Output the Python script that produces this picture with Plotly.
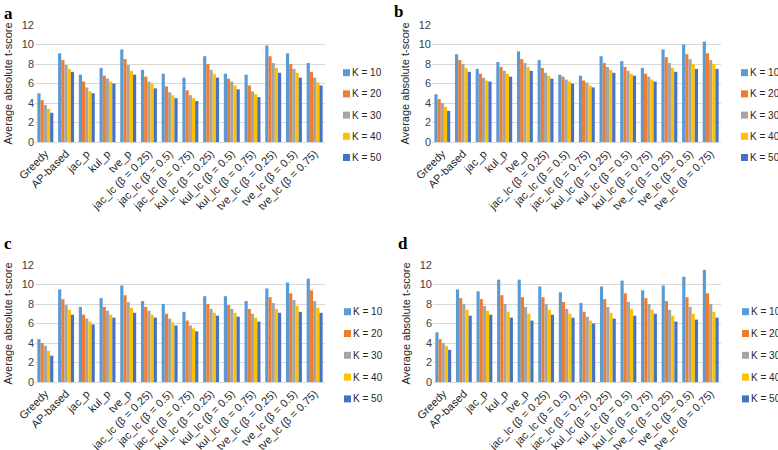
import plotly.graph_objects as go

categories = ["Greedy", "AP-based", "jac_p", "kul_p", "tve_p",
              "jac_lc (β = 0.25)", "jac_lc (β = 0.5)", "jac_lc (β = 0.75)",
              "kul_lc (β = 0.25)", "kul_lc (β = 0.5)", "kul_lc (β = 0.75)",
              "tve_lc (β = 0.25)", "tve_lc (β = 0.5)", "tve_lc (β = 0.75)"]
series_names = ["K = 10", "K = 20", "K = 30", "K = 40", "K = 50"]
panel_labels = ["a", "b", "c", "d"]

# values per panel, one list per category: [K10, K20, K30, K40, K50]
panel_a = [[5.0, 4.3, 3.8, 3.4, 3.0], [9.1, 8.4, 7.9, 7.5, 7.2], [6.9, 6.2, 5.6, 5.2, 5.0],
           [7.6, 6.8, 6.5, 6.2, 6.0], [9.5, 8.5, 7.9, 7.3, 6.9], [7.4, 6.7, 6.2, 6.0, 5.5],
           [7.0, 5.7, 5.1, 4.8, 4.5], [6.6, 5.3, 4.8, 4.5, 4.2], [8.8, 8.0, 7.4, 7.0, 6.6],
           [7.0, 6.5, 6.2, 5.8, 5.4], [6.9, 5.8, 5.2, 4.9, 4.6], [9.9, 8.8, 8.1, 7.6, 7.1],
           [9.1, 8.0, 7.5, 7.1, 6.6], [8.1, 7.2, 6.6, 6.1, 5.8]]
panel_b = [[4.9, 4.4, 4.0, 3.6, 3.2], [9.0, 8.4, 8.0, 7.6, 7.2], [7.5, 7.0, 6.6, 6.3, 6.2],
           [8.2, 7.7, 7.3, 7.0, 6.7], [9.3, 8.5, 8.1, 7.7, 7.3], [8.4, 7.6, 7.1, 6.8, 6.5],
           [6.9, 6.7, 6.4, 6.2, 6.0], [6.8, 6.3, 6.1, 5.8, 5.6], [8.8, 8.1, 7.7, 7.4, 7.1],
           [8.3, 7.7, 7.3, 7.0, 6.8], [7.6, 7.0, 6.7, 6.4, 6.2], [9.5, 8.7, 8.1, 7.6, 7.2],
           [10.0, 9.0, 8.5, 8.0, 7.5], [10.3, 9.1, 8.4, 8.0, 7.5]]
panel_c = [[4.4, 4.0, 3.7, 3.2, 2.7], [9.5, 8.5, 7.9, 7.4, 6.9], [7.7, 6.9, 6.5, 6.2, 5.9],
           [8.6, 7.7, 7.3, 6.9, 6.6], [9.9, 8.9, 8.2, 7.6, 7.1], [8.3, 7.7, 7.3, 6.9, 6.6],
           [8.0, 7.0, 6.5, 6.1, 5.8], [7.2, 6.3, 5.8, 5.5, 5.2], [8.8, 8.0, 7.5, 7.1, 6.8],
           [8.8, 7.9, 7.5, 7.1, 6.7], [8.3, 7.5, 7.0, 6.6, 6.2], [9.6, 8.7, 8.1, 7.5, 7.1],
           [10.2, 9.1, 8.4, 7.8, 7.2], [10.6, 9.4, 8.3, 7.6, 7.1]]
panel_d = [[5.1, 4.4, 4.0, 3.7, 3.3], [9.5, 8.6, 8.0, 7.4, 6.8], [9.3, 8.5, 7.8, 7.3, 6.9],
           [10.5, 8.9, 8.0, 7.2, 6.6], [10.5, 8.7, 7.7, 7.0, 6.3], [9.8, 8.7, 8.0, 7.4, 6.9],
           [9.2, 8.2, 7.5, 7.0, 6.6], [8.1, 7.2, 6.7, 6.3, 6.0], [9.8, 8.5, 7.7, 7.1, 6.5],
           [10.4, 9.1, 8.2, 7.5, 6.8], [9.4, 8.6, 8.0, 7.4, 7.0], [9.9, 8.3, 7.4, 6.8, 6.2],
           [10.8, 8.7, 7.7, 7.0, 6.4], [11.5, 9.1, 8.0, 7.2, 6.6]]
panels = [panel_a, panel_b, panel_c, panel_d]

colors = ["#5B9BD5", "#ED7D31", "#A5A5A5", "#FFC000", "#4472C4"]

W, H = 778, 450
# plot-area boxes in pixels: (left, right, top(12), bottom(0))
boxes = [(35, 325, 25, 142), (432, 721, 25, 142), (35, 325, 265, 382), (433, 721, 265, 382)]
# legend layout per panel: (swatch left x px, first row centre y px, row spacing px)
legend_pos = [(343, 72.7, 21.2), (741, 72.7, 21.2), (344, 311.7, 21.8), (742, 311.7, 21.8)]
label_pos = [(2, 2), (392, 0), (2, 232), (396, 232)]

fig = go.Figure()
font_family = "Liberation Sans, Arial, sans-serif"
SW = 7  # legend swatch size in px

for p, data in enumerate(panels):
    suffix = "" if p == 0 else str(p + 1)
    for s, name in enumerate(series_names):
        fig.add_trace(go.Bar(
            x=categories, y=[row[s] for row in data], name=name,
            marker=dict(color=colors[s], line=dict(width=0)),
            xaxis="x" + suffix, yaxis="y" + suffix, showlegend=False,
        ))
    l, r, t, b = boxes[p]
    fig.layout["xaxis" + suffix] = dict(
        domain=[l / W, r / W], anchor="y" + suffix, tickangle=-45,
        tickfont=dict(size=11, color="#262626", family=font_family),
        showgrid=False, showline=True, linecolor="#D9D9D9", linewidth=1,
        ticks="", automargin=False,
    )
    fig.layout["yaxis" + suffix] = dict(
        domain=[1 - b / H, 1 - t / H], anchor="x" + suffix, range=[0, 12], dtick=2,
        tickfont=dict(size=11, color="#404040", family=font_family),
        showgrid=True, gridcolor="#D9D9D9", gridwidth=1, zeroline=False,
        showline=False, ticks="", automargin=False,
        title=dict(text="Average absolute t-score", standoff=6,
                   font=dict(size=11, color="#262626", family=font_family)),
    )
    # legend (swatch + label) for this panel
    lx, ly, dy = legend_pos[p]
    for s, name in enumerate(series_names):
        cy = ly + s * dy
        fig.add_shape(type="rect", xref="paper", yref="paper",
                      x0=lx / W, x1=(lx + SW) / W,
                      y0=1 - (cy + SW / 2) / H, y1=1 - (cy - SW / 2) / H,
                      fillcolor=colors[s], line=dict(width=0))
        fig.add_annotation(text=name, x=(lx + SW + 1) / W, y=1 - cy / H,
                           xref="paper", yref="paper", xanchor="left", yanchor="middle",
                           showarrow=False, borderpad=0,
                           font=dict(size=10, color="#262626", family=font_family))
    ax, ay = label_pos[p]
    fig.add_annotation(
        text=f"<b>{panel_labels[p]}</b>", x=ax / W, y=1 - ay / H, xref="paper", yref="paper",
        xanchor="left", yanchor="top", showarrow=False,
        font=dict(size=17, family="Liberation Serif, DejaVu Serif, serif", color="black"),
    )

fig.update_layout(
    width=W, height=H, barmode="group", bargap=0.23, bargroupgap=0,
    margin=dict(l=0, r=0, t=0, b=0, autoexpand=False),
    plot_bgcolor="white", paper_bgcolor="white",
    showlegend=False,
)

fig.write_html("out.html", config={"displayModeBar": False},
               post_script="document.body.style.margin='0px';document.body.style.overflow='hidden';")
